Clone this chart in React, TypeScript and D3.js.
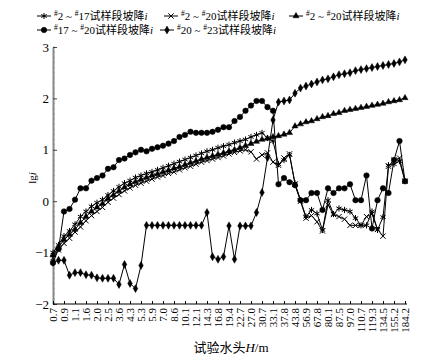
import React, { useRef, useEffect } from 'react';
import * as d3 from 'd3';

const tickLabels = ['0.7', '0.9', '1.1', '1.6', '2.0', '2.5', '3.6', '4.3', '5.3', '5.9', '7.0', '8.6', '10.1', '12.1', '14.3', '16.8', '19.4', '22.7', '27.0', '30.7', '33.1', '37.8', '43.8', '56.9', '67.8', '80.1', '87.5', '97.0', '110.7', '119.3', '134.5', '155.2', '184.2'];

// 65 measuring steps, every second one is labelled
const steps = d3.range(65);

const s2to17 = [-1.0, -0.85, -0.68, -0.58, -0.45, -0.3, -0.2, -0.1, -0.03, 0.03, 0.12, 0.2, 0.28, 0.35, 0.4, 0.46, 0.5, 0.54, 0.57, 0.61, 0.65, 0.69, 0.73, 0.77, 0.81, 0.85, 0.89, 0.93, 0.97, 1.0, 1.04, 1.07, 1.1, 1.14, 1.17, 1.2, 1.25, 1.29, 1.33, 1.23, 1.17, 0.72, 0.8, 0.9, 0.35, 0.02, -0.3, -0.17, -0.24, -0.56, 0.02, -0.25, -0.14, -0.17, -0.2, -0.33, -0.47, -0.47, -0.2, -0.56, -0.31, 0.7, 0.72, 0.78, 0.39];
const s2to20a = [-1.1, -0.95, -0.82, -0.72, -0.6, -0.5, -0.38, -0.28, -0.2, -0.12, -0.02, 0.06, 0.13, 0.2, 0.26, 0.31, 0.35, 0.39, 0.43, 0.47, 0.5, 0.54, 0.57, 0.61, 0.65, 0.68, 0.72, 0.76, 0.79, 0.82, 0.85, 0.88, 0.92, 0.95, 0.98, 1.0, 0.96, 0.82, 0.9, 0.94, 0.76, 0.7, 0.84, 0.92, 0.33, 0.0, -0.33, -0.28, -0.4, -0.58, -0.07, -0.26, -0.3, -0.35, -0.47, -0.47, -0.47, -0.3, -0.25, -0.55, -0.68, 0.68, 0.8, 0.84, 0.39];
const s2to20b = [-1.05, -0.9, -0.75, -0.65, -0.55, -0.42, -0.3, -0.2, -0.12, -0.05, 0.05, 0.12, 0.2, 0.27, 0.33, 0.38, 0.42, 0.46, 0.5, 0.53, 0.57, 0.6, 0.64, 0.67, 0.71, 0.75, 0.78, 0.82, 0.85, 0.88, 0.91, 0.94, 0.97, 1.0, 1.04, 1.08, 1.12, 1.16, 1.2, 1.22, 1.25, 1.27, 1.3, 1.33, 1.46, 1.5, 1.54, 1.56, 1.6, 1.64, 1.66, 1.7, 1.72, 1.76, 1.78, 1.8, 1.82, 1.84, 1.86, 1.88, 1.9, 1.93, 1.95, 1.97, 2.01];
const s17to20 = [-1.2, -0.93, -0.2, -0.15, 0.03, 0.25, 0.25, 0.4, 0.45, 0.5, 0.63, 0.66, 0.8, 0.83, 0.9, 0.95, 1.0, 0.97, 1.02, 1.05, 1.08, 1.12, 1.17, 1.25, 1.29, 1.35, 1.33, 1.33, 1.33, 1.35, 1.39, 1.44, 1.44, 1.56, 1.64, 1.76, 1.86, 1.95, 1.95, 1.83, 1.76, 0.33, 0.45, 0.37, 0.31, 0.02, 0.02, 0.16, 0.16, -0.17, 0.25, 0.16, 0.25, 0.25, 0.33, 0.02, 0.02, 0.5, -0.53, 0.02, 0.25, 0.16, 0.8, 1.17, 0.39];
const s20to23 = [-1.19, -1.15, -1.15, -1.44, -1.39, -1.39, -1.43, -1.44, -1.49, -1.5, -1.5, -1.5, -1.62, -1.23, -1.6, -1.7, -1.25, -0.47, -0.47, -0.47, -0.47, -0.47, -0.47, -0.47, -0.47, -0.47, -0.47, -0.47, -0.22, -1.08, -1.13, -1.08, -0.48, -1.13, -0.48, -0.48, -0.48, -0.22, 0.17, 0.85, 1.58, 1.93, 1.95, 1.97, 2.1, 2.2, 2.24, 2.28, 2.32, 2.36, 2.38, 2.42, 2.46, 2.48, 2.5, 2.54, 2.56, 2.58, 2.6, 2.62, 2.64, 2.66, 2.68, 2.71, 2.75];

const seriesList = [
  { from: '2', to: '17', values: s2to17, symbol: d3.symbolAsterisk, size: 26, fill: 'none' },
  { from: '2', to: '20', values: s2to20a, symbol: d3.symbolTimes, size: 20, fill: 'none' },
  { from: '2', to: '20', values: s2to20b, symbol: d3.symbolTriangle, size: 16, fill: '#000' },
  { from: '17', to: '20', values: s17to20, symbol: d3.symbolCircle, size: 24, fill: '#000' },
  { from: '20', to: '23', values: s20to23, symbol: d3.symbolDiamond, size: 18, fill: '#000' },
];

const FONT = '"Liberation Serif", "Noto Sans CJK SC", serif';

const App: React.FC = () => {
  const svgRef = useRef<SVGSVGElement>(null);

  useEffect(() => {
    if (!svgRef.current) return;
    const svg = d3.select(svgRef.current);
    svg.selectAll('*').remove();

    const x = d3.scalePoint<number>().domain(steps).range([53, 405]);
    const y = d3.scaleLinear().domain([-2, 3]).range([304, 47]);

    // y axis minor ticks
    svg.append('g')
      .selectAll('line')
      .data(d3.range(-2, 3.001, 0.1))
      .join('line')
      .attr('x1', 53).attr('x2', 55)
      .attr('y1', (d) => y(d)).attr('y2', (d) => y(d))
      .attr('stroke', '#777').attr('stroke-width', 0.6);

    const yAxis = svg.append('g')
      .attr('transform', 'translate(53,0)')
      .call(
        d3.axisLeft(y)
          .tickValues([-2, -1, 0, 1, 2, 3])
          .tickFormat(d3.format('d'))
          .tickSizeInner(-4)
          .tickSizeOuter(0)
          .tickPadding(4)
      );
    yAxis.select('.domain').attr('stroke', '#888').attr('stroke-width', 2);
    yAxis.selectAll('line').attr('stroke', '#444');
    yAxis.selectAll('text').style('font-family', FONT).style('font-size', '13px').attr('fill', '#000');

    const xAxis = svg.append('g')
      .attr('transform', 'translate(0,304)')
      .call(
        d3.axisBottom(x)
          .tickValues(steps.filter((d) => d % 2 === 0))
          .tickFormat((d) => tickLabels[(d as number) / 2])
          .tickSizeInner(-3)
          .tickSizeOuter(0)
      );
    xAxis.select('.domain').attr('stroke', '#000').attr('stroke-width', 1.2).attr('d', 'M53,0H407');
    xAxis.selectAll('text')
      .attr('transform', 'rotate(-90)')
      .attr('x', -4)
      .attr('y', 0)
      .attr('dy', '0.35em')
      .style('text-anchor', 'end')
      .style('font-family', FONT)
      .style('font-size', '11px')
      .attr('fill', '#000');

    // axis titles
    const xt = svg.append('text')
      .attr('x', 231).attr('y', 352)
      .attr('text-anchor', 'middle')
      .style('font-family', FONT).style('font-size', '13px');
    xt.append('tspan').text('试验水头');
    xt.append('tspan').attr('font-style', 'italic').text('H');
    xt.append('tspan').text('/m');

    const yt = svg.append('text')
      .attr('transform', 'translate(36,178) rotate(-90)')
      .attr('text-anchor', 'middle')
      .style('font-family', FONT).style('font-size', '11px');
    yt.append('tspan').text('lg');
    yt.append('tspan').attr('font-style', 'italic').text('i');

    const line = d3.line<number>()
      .x((_, i) => x(i) as number)
      .y((d) => y(d));

    seriesList.forEach((s) => {
      const g = svg.append('g');
      g.append('path')
        .datum(s.values)
        .attr('fill', 'none')
        .attr('stroke', '#000')
        .attr('stroke-width', 1)
        .attr('d', line);
      g.selectAll('path.m')
        .data(s.values)
        .join('path')
        .attr('class', 'm')
        .attr('transform', (d, i) => `translate(${x(i)},${y(d)})`)
        .attr('d', d3.symbol(s.symbol, s.size)())
        .attr('fill', s.fill)
        .attr('stroke', '#000')
        .attr('stroke-width', s.fill === 'none' ? 1 : 0.5);
    });

    // legend
    const legendPos = [
      [37, 20], [164, 20], [289, 20],
      [37, 34], [160, 34],
    ];
    seriesList.forEach((s, k) => {
      const [lx, ly] = legendPos[k];
      const item = svg.append('g').attr('transform', `translate(${lx},${ly - 4})`);
      item.append('line').attr('x1', 0).attr('x2', 14).attr('stroke', '#000');
      item.append('path')
        .attr('transform', 'translate(7,0)')
        .attr('d', d3.symbol(s.symbol, s.size)())
        .attr('fill', s.fill)
        .attr('stroke', '#000')
        .attr('stroke-width', s.fill === 'none' ? 1 : 0.5);
      const t = item.append('text')
        .attr('x', 17).attr('y', 4)
        .style('font-family', FONT).style('font-size', '11px');
      t.append('tspan').attr('font-size', '7.5px').attr('dy', -4).text('#');
      t.append('tspan').attr('dy', 4).text(`${s.from} ~ `);
      t.append('tspan').attr('font-size', '7.5px').attr('dy', -4).text('#');
      t.append('tspan').attr('dy', 4).text(`${s.to}试样段坡降`);
      t.append('tspan').attr('font-style', 'italic').text('i');
    });
  }, []);

  return (
    <svg ref={svgRef} width={438} height={364} style={{ position: 'absolute', left: 0, top: 0, background: '#fff' }} />
  );
};

export default App;
